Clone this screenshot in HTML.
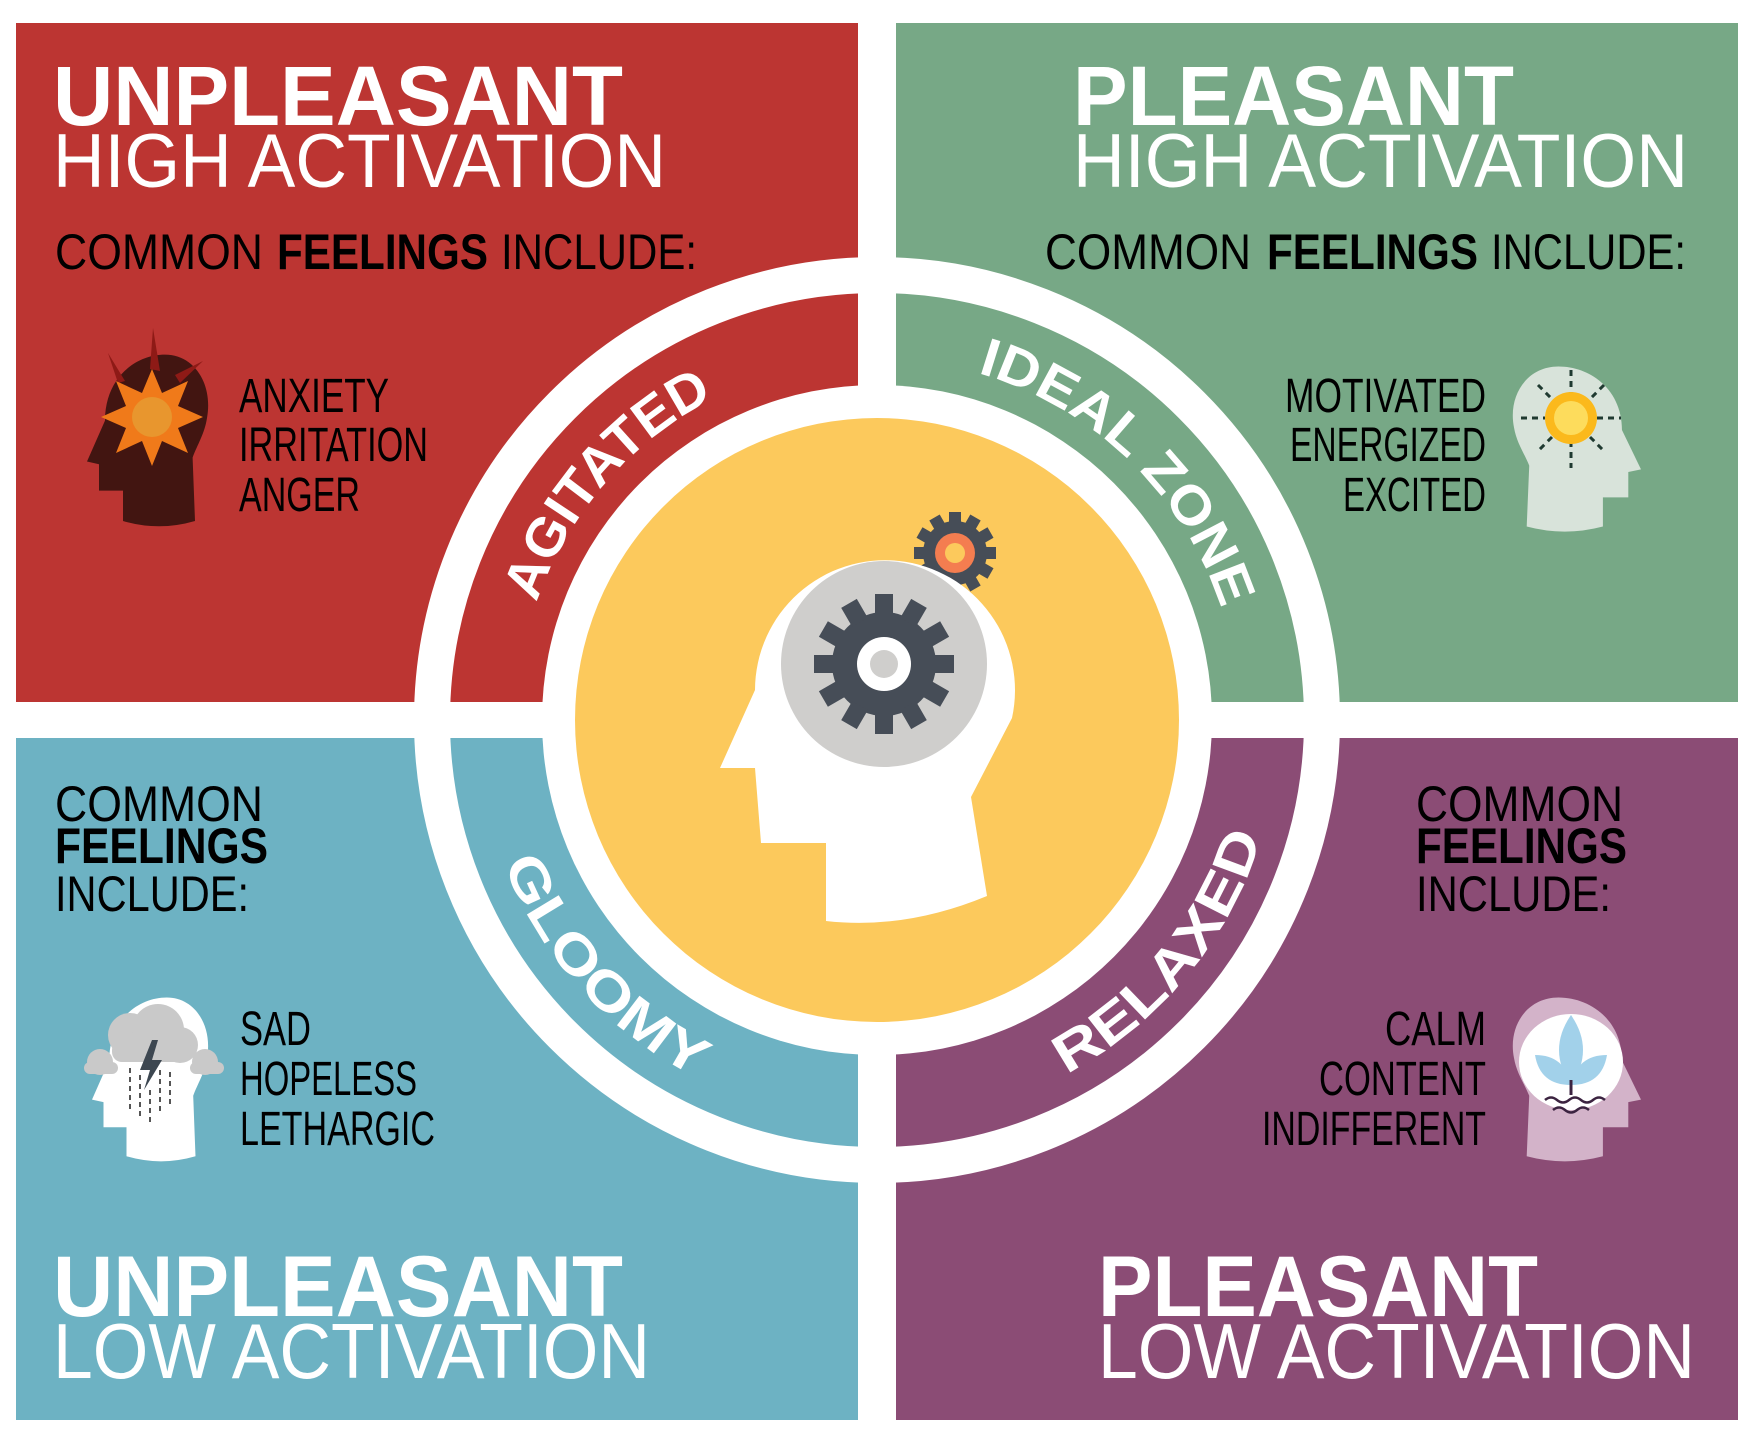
<!DOCTYPE html>
<html><head><meta charset="utf-8"><style>
html,body{margin:0;padding:0;background:#fff}
svg{display:block}
text{font-family:"Liberation Sans",sans-serif}
</style></head><body>
<svg width="1756" height="1440" viewBox="0 0 1756 1440" xmlns="http://www.w3.org/2000/svg">
<defs>
<path id="head" d="M15 52 C15 20 40 2 65 2 C90 2 105 25 100 50 C98 62 92 70 88 80 L90 128 Q60 136 30 128 L30 105 L10 105 L10 85 L0 83 Z"/>
<path id="pA" d="M536.7 602.5 A361 361 0 0 1 714.1 398.3"/>
<path id="pI" d="M977.5 373 A361 361 0 0 1 1221.3 608.5"/>
<path id="pG" d="M503.6 863.7 A401 401 0 0 0 695.9 1077.3"/>
<path id="pR" d="M1066.3 1074 A401 401 0 0 0 1261.5 837.3"/>
</defs>
<rect width="1756" height="1440" fill="#fff"/>
<rect x="16" y="23" width="842" height="679" fill="#BC3532"/>
<rect x="896" y="23" width="842" height="679" fill="#77A886"/>
<rect x="16" y="738" width="842" height="682" fill="#6DB2C3"/>
<rect x="896" y="738" width="842" height="682" fill="#8B4C75"/>
<circle cx="877" cy="720" r="445" fill="none" stroke="#fff" stroke-width="36"/>
<circle cx="877" cy="720" r="335" fill="#fff"/>
<circle cx="877" cy="720" r="302" fill="#FCC95C"/>

<!-- small gear -->
<g transform="translate(955,553)" fill="#464D57">
<circle r="32"/>
<g id="st"><rect x="-6" y="-41" width="12" height="14"/></g>
<use href="#st" transform="rotate(30)"/><use href="#st" transform="rotate(60)"/><use href="#st" transform="rotate(90)"/><use href="#st" transform="rotate(120)"/><use href="#st" transform="rotate(150)"/><use href="#st" transform="rotate(180)"/><use href="#st" transform="rotate(210)"/><use href="#st" transform="rotate(240)"/><use href="#st" transform="rotate(270)"/><use href="#st" transform="rotate(300)"/><use href="#st" transform="rotate(330)"/>
<circle r="20" fill="#F47D50"/><circle r="10" fill="#FCC95C"/>
</g>
<!-- big head -->
<path d="M755 690 A130 130 0 1 1 1012 718 L971 797 L987 896 Q905 930 826 921 L826 843 L761 843 L755 768 L720 768 Z" fill="#fff"/>
<circle cx="884" cy="664" r="103" fill="#CFCECC"/>
<g transform="translate(884,664)" fill="#464D57">
<circle r="52"/>
<g id="bt"><rect x="-9" y="-70" width="18" height="22"/></g>
<use href="#bt" transform="rotate(30)"/><use href="#bt" transform="rotate(60)"/><use href="#bt" transform="rotate(90)"/><use href="#bt" transform="rotate(120)"/><use href="#bt" transform="rotate(150)"/><use href="#bt" transform="rotate(180)"/><use href="#bt" transform="rotate(210)"/><use href="#bt" transform="rotate(240)"/><use href="#bt" transform="rotate(270)"/><use href="#bt" transform="rotate(300)"/><use href="#bt" transform="rotate(330)"/>
<circle r="27" fill="#fff"/><circle r="14" fill="#CFCECC"/>
</g>

<!-- curved labels -->
<g font-weight="bold" font-size="54" fill="#fff">
<text><textPath href="#pA" textLength="277" lengthAdjust="spacingAndGlyphs">AGITATED</textPath></text>
<text><textPath href="#pI" textLength="353" lengthAdjust="spacingAndGlyphs">IDEAL ZONE</textPath></text>
<text><textPath href="#pG" textLength="294" lengthAdjust="spacingAndGlyphs">GLOOMY</textPath></text>
<text><textPath href="#pR" textLength="315" lengthAdjust="spacingAndGlyphs">RELAXED</textPath></text>
</g>

<!-- titles -->
<g fill="#fff">
<text x="53" y="125" font-size="84" font-weight="bold" textLength="570" lengthAdjust="spacingAndGlyphs">UNPLEASANT</text>
<text x="53" y="187" font-size="76" textLength="613" lengthAdjust="spacingAndGlyphs">HIGH ACTIVATION</text>
<text x="1073" y="125" font-size="84" font-weight="bold" textLength="441" lengthAdjust="spacingAndGlyphs">PLEASANT</text>
<text x="1073" y="187" font-size="76" textLength="615" lengthAdjust="spacingAndGlyphs">HIGH ACTIVATION</text>
<text x="53" y="1316" font-size="86" font-weight="bold" textLength="570" lengthAdjust="spacingAndGlyphs">UNPLEASANT</text>
<text x="53" y="1378" font-size="78" textLength="597" lengthAdjust="spacingAndGlyphs">LOW ACTIVATION</text>
<text x="1098" y="1316" font-size="86" font-weight="bold" textLength="440" lengthAdjust="spacingAndGlyphs">PLEASANT</text>
<text x="1098" y="1378" font-size="78" textLength="597" lengthAdjust="spacingAndGlyphs">LOW ACTIVATION</text>
</g>

<g fill="#000" font-size="50">
<text x="55" y="269" textLength="208" lengthAdjust="spacingAndGlyphs">COMMON</text>
<text x="277" y="269" font-weight="bold" textLength="211" lengthAdjust="spacingAndGlyphs">FEELINGS</text>
<text x="501" y="269" textLength="196" lengthAdjust="spacingAndGlyphs">INCLUDE:</text>
<text x="1045" y="269" textLength="206" lengthAdjust="spacingAndGlyphs">COMMON</text>
<text x="1267" y="269" font-weight="bold" textLength="211" lengthAdjust="spacingAndGlyphs">FEELINGS</text>
<text x="1491" y="269" textLength="195" lengthAdjust="spacingAndGlyphs">INCLUDE:</text>
<text x="55" y="821" textLength="208" lengthAdjust="spacingAndGlyphs">COMMON</text>
<text x="55" y="863" font-weight="bold" textLength="213" lengthAdjust="spacingAndGlyphs">FEELINGS</text>
<text x="55" y="911" textLength="194" lengthAdjust="spacingAndGlyphs">INCLUDE:</text>
<text x="1416" y="821" textLength="207" lengthAdjust="spacingAndGlyphs">COMMON</text>
<text x="1416" y="863" font-weight="bold" textLength="211" lengthAdjust="spacingAndGlyphs">FEELINGS</text>
<text x="1416" y="911" textLength="195" lengthAdjust="spacingAndGlyphs">INCLUDE:</text>
</g>
<g fill="#000" font-size="48">
<text x="239" y="412" textLength="150" lengthAdjust="spacingAndGlyphs">ANXIETY</text>
<text x="239" y="461" textLength="189" lengthAdjust="spacingAndGlyphs">IRRITATION</text>
<text x="239" y="511" textLength="121" lengthAdjust="spacingAndGlyphs">ANGER</text>
<text x="1285" y="412" textLength="201" lengthAdjust="spacingAndGlyphs">MOTIVATED</text>
<text x="1290" y="461" textLength="196" lengthAdjust="spacingAndGlyphs">ENERGIZED</text>
<text x="1343" y="511" textLength="143" lengthAdjust="spacingAndGlyphs">EXCITED</text>
<text x="240" y="1045" textLength="71" lengthAdjust="spacingAndGlyphs">SAD</text>
<text x="240" y="1095" textLength="177" lengthAdjust="spacingAndGlyphs">HOPELESS</text>
<text x="240" y="1145" textLength="195" lengthAdjust="spacingAndGlyphs">LETHARGIC</text>
<text x="1385" y="1045" textLength="101" lengthAdjust="spacingAndGlyphs">CALM</text>
<text x="1319" y="1095" textLength="167" lengthAdjust="spacingAndGlyphs">CONTENT</text>
<text x="1262" y="1145" textLength="224" lengthAdjust="spacingAndGlyphs">INDIFFERENT</text>
</g>

<!-- angry head -->
<use href="#head" transform="translate(87,352) scale(1.2,1.32)" fill="#421511"/>
<g transform="translate(0,-109)">
<g fill="#8E1A16"><polygon points="108,462 125,490 118,492"/><polygon points="153,437 160,480 150,478"/><polygon points="203,470 180,492 175,484"/></g>
<polygon points="152,478 162,502 188,490 178,515 203,526 178,537 188,562 162,550 152,575 142,550 116,562 126,537 101,526 126,515 116,490 142,502" fill="#F07A1A"/>
<circle cx="152" cy="526" r="20" fill="#E8962E"/>
</g>

<!-- sun head -->
<use href="#head" transform="translate(1641,364) scale(-1.27,1.27)" fill="#D8E3DA"/>
<g stroke="#1F3A30" stroke-width="3" stroke-dasharray="6 5">
<line x1="1571" y1="370" x2="1571" y2="395"/><line x1="1571" y1="441" x2="1571" y2="468"/>
<line x1="1521" y1="418" x2="1545" y2="418"/><line x1="1597" y1="418" x2="1621" y2="418"/>
<line x1="1538" y1="385" x2="1552" y2="399"/><line x1="1590" y1="437" x2="1604" y2="451"/>
<line x1="1604" y1="385" x2="1590" y2="399"/><line x1="1552" y1="437" x2="1538" y2="451"/>
</g>
<circle cx="1571" cy="418" r="26" fill="#FBB91C"/><circle cx="1571" cy="418" r="17" fill="#FDDC5C"/>

<!-- cloud head -->
<use href="#head" transform="translate(92,995) scale(1.15,1.26)" fill="#fff"/>
<g fill="#C9C9C9"><circle cx="130" cy="1035" r="22"/><circle cx="158" cy="1030" r="26"/><circle cx="180" cy="1045" r="18"/><rect x="112" y="1040" width="80" height="22" rx="10"/><circle cx="100" cy="1062" r="13"/><circle cx="205" cy="1062" r="13"/><rect x="84" y="1062" width="34" height="12" rx="6"/><rect x="190" y="1062" width="34" height="12" rx="6"/></g>
<polygon points="152,1040 140,1070 150,1070 144,1090 162,1060 152,1060 158,1040" fill="#3D4751"/>
<g stroke="#555" stroke-width="2" stroke-dasharray="5 4"><line x1="130" y1="1068" x2="130" y2="1110"/><line x1="140" y1="1075" x2="140" y2="1120"/><line x1="160" y1="1070" x2="160" y2="1112"/><line x1="170" y1="1072" x2="170" y2="1105"/><line x1="150" y1="1090" x2="150" y2="1125"/></g>

<!-- lotus head -->
<use href="#head" transform="translate(1641,995) scale(-1.27,1.26)" fill="#D3B3C9"/>
<ellipse cx="1571" cy="1062" rx="52" ry="48" fill="#fff"/>
<g fill="#8CC6E6" opacity="0.8"><path d="M1571 1015 Q1595 1050 1571 1085 Q1547 1050 1571 1015Z"/><path d="M1535 1055 Q1565 1055 1571 1085 Q1540 1085 1535 1055Z"/><path d="M1607 1055 Q1577 1055 1571 1085 Q1602 1085 1607 1055Z"/></g>
<line x1="1571" y1="1080" x2="1571" y2="1095" stroke="#3B2340" stroke-width="3"/>
<g fill="none" stroke="#3B2340" stroke-width="2.5"><path d="M1545 1100 q6 -5 12 0 t12 0 t12 0 t12 0 t12 0"/><path d="M1553 1110 q6 -5 12 0 t12 0 t12 0"/></g>
</svg>
</body></html>
